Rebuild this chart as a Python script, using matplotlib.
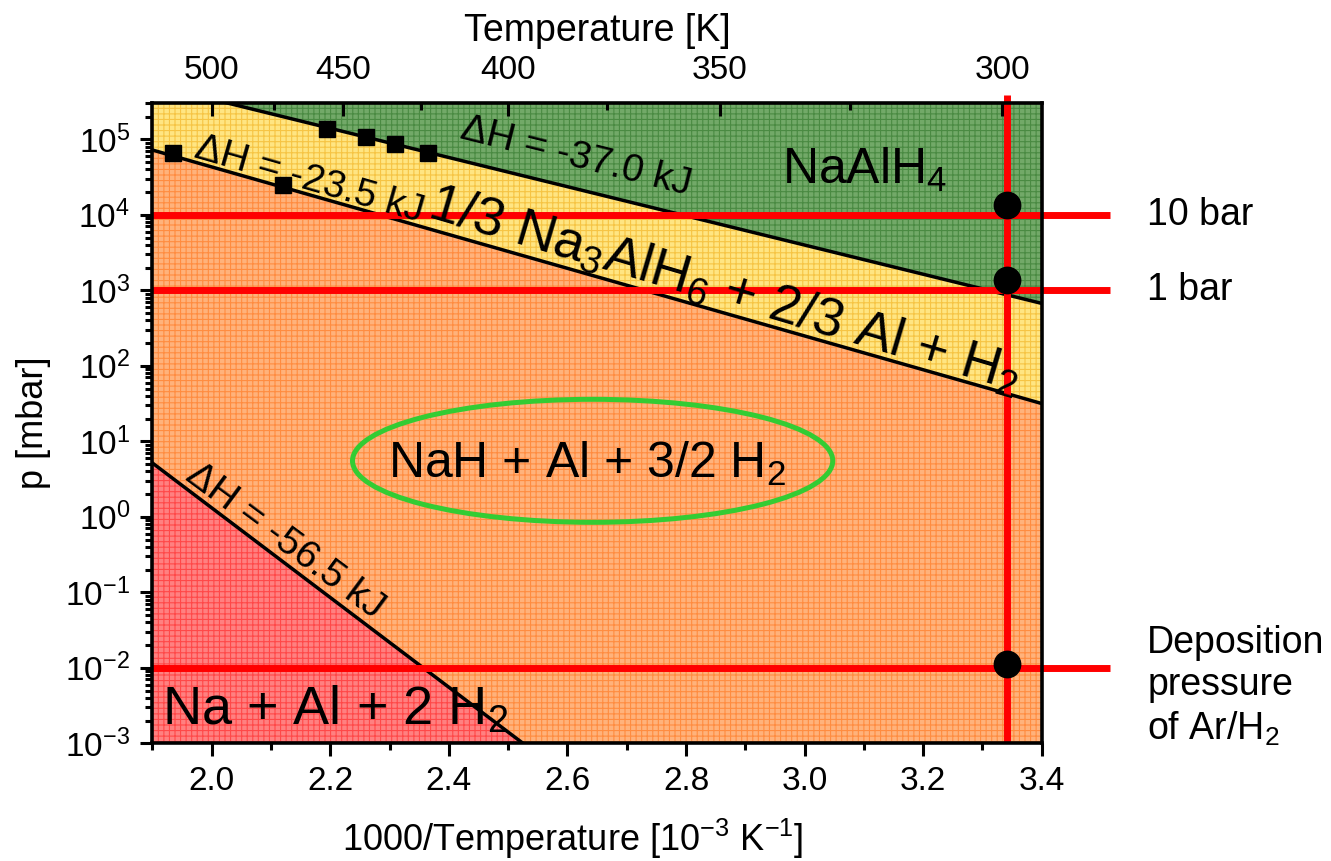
import numpy as np
import matplotlib
matplotlib.use("Agg")
import matplotlib.pyplot as plt
from matplotlib.patches import Ellipse
from matplotlib.ticker import LogLocator, NullFormatter, FixedLocator

plt.rcParams['font.family'] = ['Liberation Sans', 'DejaVu Sans']
plt.rcParams['mathtext.fontset'] = 'custom'
plt.rcParams['mathtext.rm'] = 'Liberation Sans'
plt.rcParams['mathtext.it'] = 'Liberation Sans:italic'
plt.rcParams['mathtext.bf'] = 'Liberation Sans:bold'
plt.rcParams['axes.unicode_minus'] = False
plt.rcParams['hatch.linewidth'] = 0.8

# ---- data ----------------------------------------------------------------
# phase boundaries: two anchor points (1000/T, p in mbar) on each straight line
boundary_37 = [(2.026, 3.03e5), (3.397, 679.0)]     # NaAlH4 / Na3AlH6
boundary_23 = [(1.900, 7.21e4), (3.397, 32.1)]      # Na3AlH6 / NaH
boundary_56 = [(1.900, 5.16), (2.525, 1.0e-3)]      # NaH / Na

# measured equilibrium points
meas_x = [1.935, 2.120, 2.194, 2.260, 2.310, 2.364]
meas_p = [6.6e4, 2.5e4, 1.37e5, 1.08e5, 8.7e4, 6.6e4]

# pressures of interest (mbar) and labels
ref_p = [1.0e4, 1.0e3, 1.0e-2]
ref_labels = ["10 bar", "1 bar", "Deposition\npressure\nof Ar/H$_2$"]
dot_p = [1.35e4, 1.37e3, 1.12e-2]
room_x = 3.342  # 1000/T at room temperature

# top axis temperatures
temp_major = [500, 450, 400, 350, 300]
temp_minor = [475, 425, 375, 325]

x_lim = (1.9, 3.4)
p_lim = (1e-3, 3.05e5)

col_green, hat_green = '#72a968', '#4a8a42'
col_yellow, hat_yellow = '#ffe582', '#f6c444'
col_orange, hat_orange = '#ffb27b', '#ff8c40'
col_red, hat_red = '#ff8080', '#ff4848'


def boundary(points, x):
    (x1, p1), (x2, p2) = points
    k = (np.log10(p2) - np.log10(p1)) / (x2 - x1)
    return 10 ** (np.log10(p1) + k * (x - x1))


fig = plt.figure(figsize=(13.31, 8.61), dpi=100)
ax = fig.add_axes([0.1145, 0.1367, 0.6682, 0.744])
ax.set_yscale('log')
ax.set_xlim(*x_lim)
ax.set_ylim(*p_lim)

xs = np.array(x_lim)
pg = boundary(boundary_37, xs)
py = boundary(boundary_23, xs)
pr = boundary(boundary_56, xs)
top, bot = 1e8, 1e-8

ax.fill_between(xs, pg, top, facecolor=col_green, edgecolor=hat_green, hatch='+++', lw=0, zorder=0)
ax.fill_between(xs, py, pg, facecolor=col_yellow, edgecolor=hat_yellow, hatch='+++', lw=0, zorder=0)
ax.fill_between(xs, pr, py, facecolor=col_orange, edgecolor=hat_orange, hatch='+++', lw=0, zorder=0)
ax.fill_between(xs, bot, pr, facecolor=col_red, edgecolor=hat_red, hatch='+++', lw=0, zorder=0)

for b in (boundary_37, boundary_23, boundary_56):
    ax.plot(xs, boundary(b, xs), color='black', lw=2.5, zorder=2)

ax.plot(meas_x, meas_p, 's', color='black', ms=11, zorder=3)

# red reference lines
for p in ref_p:
    ax.plot([x_lim[0], 3.515], [p, p], color='#ff0000', lw=5, zorder=4,
            clip_on=False, solid_capstyle='butt')
ax.plot([room_x, room_x], [p_lim[0], 3.9e5], color='#ff0000', lw=5, zorder=4,
        clip_on=False, solid_capstyle='butt')
ax.plot([room_x] * len(dot_p), dot_p, 'o', color='black', ms=19, zorder=5, clip_on=False)

# labels at the right end of the reference lines
for p, lab in zip(ref_p, ref_labels):
    if '\n' in lab:
        ax.annotate(lab, xy=(3.578, p), xytext=(0, 31), textcoords='offset points',
                    fontsize=27, ha='left', va='top', linespacing=1.22,
                    annotation_clip=False)
    else:
        ax.text(3.578, p, lab, fontsize=27, ha='left', va='center', clip_on=False)

# ellipse around the NaH region
ell = Ellipse((0.495, 0.441), 0.54, 0.192, transform=ax.transAxes,
              facecolor='none', edgecolor='#33cc33', lw=3.6, zorder=3)
ax.add_patch(ell)

# phase labels
ax.text(3.102, 3.9e4, 'NaAlH$_4$', fontsize=36, ha='center', va='center', zorder=6)
ax.text(2.297, 3.27, 'NaH + Al + 3/2 H$_2$', fontsize=36, ha='left', va='baseline', zorder=6)
ax.text(1.917, 10 ** -2.758, 'Na + Al + 2 H$_2$', fontsize=39, ha='left', va='baseline', zorder=6)
ax.text(2.866, 10 ** 3.004, '1/3 Na$_3$AlH$_6$ + 2/3 Al + H$_2$', fontsize=39,
        ha='center', va='center', rotation=-16.5, rotation_mode='anchor', zorder=6)
ax.text(2.615, 10 ** 4.766, '\u0394H = -37.0 kJ', fontsize=28, ha='center', va='center',
        rotation=-14, rotation_mode='anchor', zorder=6)
ax.text(2.164, 10 ** 4.461, '\u0394H = -23.5 kJ', fontsize=28, ha='center', va='center',
        rotation=-16, rotation_mode='anchor', zorder=6)
ax.text(2.124, 10 ** -0.32, '\u0394H = -56.5 kJ', fontsize=28, ha='center', va='center',
        rotation=-36.5, rotation_mode='anchor', zorder=6)

# axes styling
for s in ax.spines.values():
    s.set_linewidth(2.6)
    s.set_zorder(7)
ax.xaxis.set_major_locator(FixedLocator([2.0, 2.2, 2.4, 2.6, 2.8, 3.0, 3.2, 3.4]))
ax.xaxis.set_minor_locator(FixedLocator([1.9, 2.1, 2.3, 2.5, 2.7, 2.9, 3.1, 3.3]))
ax.set_xticklabels(['2.0', '2.2', '2.4', '2.6', '2.8', '3.0', '3.2', '3.4'])
ax.yaxis.set_major_locator(LogLocator(base=10, numticks=20))
ax.yaxis.set_minor_locator(LogLocator(base=10, subs=np.arange(2, 10), numticks=20))
ax.yaxis.set_minor_formatter(NullFormatter())
ax.tick_params(axis='both', which='major', direction='out', length=9, width=2.2,
               labelsize=24, pad=7)
ax.tick_params(axis='both', which='minor', direction='out', length=5, width=2.2)
ax.tick_params(axis='y', which='both', right=False)
ax.tick_params(axis='x', which='both', top=False)
ax.set_xlabel('1000/Temperature [10$^{-3}$ K$^{-1}$]', fontsize=26)
ax.xaxis.set_label_coords(0.473, -0.115)
ax.set_ylabel('p [mbar]', fontsize=26, labelpad=10)

ax2 = ax.twiny()
ax2.set_xlim(*x_lim)
ax2.xaxis.set_major_locator(FixedLocator([1000.0 / t for t in temp_major]))
ax2.xaxis.set_minor_locator(FixedLocator([1000.0 / t for t in temp_minor]))
ax2.set_xticklabels([str(t) for t in temp_major])
ax2.tick_params(axis='x', which='major', direction='in', length=9, width=2.2,
                labelsize=24, pad=12)
ax2.tick_params(axis='x', which='minor', direction='in', length=5, width=2.2)
ax2.set_xlabel('Temperature [K]', fontsize=27, labelpad=10)
for s in ax2.spines.values():
    s.set_visible(False)

fig.savefig('out.png', dpi=100)
